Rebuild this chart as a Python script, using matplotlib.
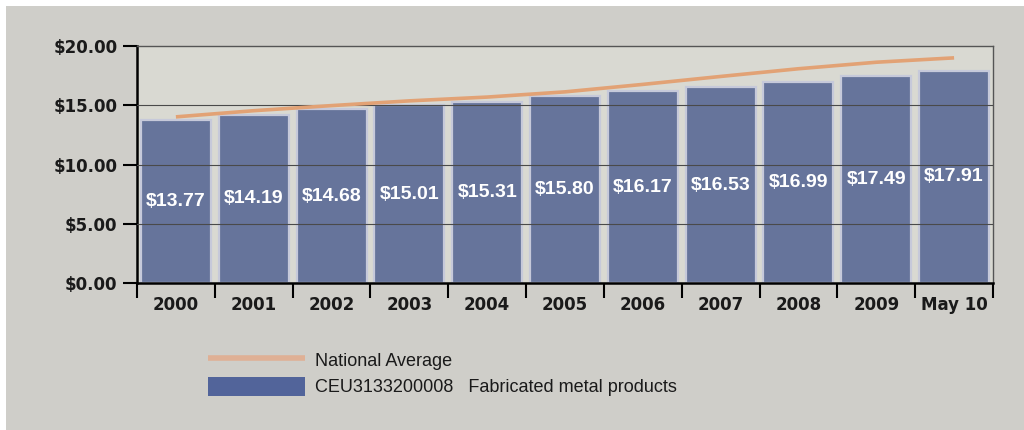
import matplotlib
matplotlib.use("Agg")
import matplotlib.pyplot as plt
from matplotlib.patches import Rectangle
from matplotlib.lines import Line2D

# Average hourly earnings, production workers
categories = ["2000", "2001", "2002", "2003", "2004", "2005",
              "2006", "2007", "2008", "2009", "May 10"]
industry_values = [13.77, 14.19, 14.68, 15.01, 15.31, 15.80,
                   16.17, 16.53, 16.99, 17.49, 17.91]
national_average = [14.02, 14.54, 14.97, 15.37, 15.69, 16.13,
                    16.76, 17.43, 18.08, 18.63, 19.00]
y_ticks = [0, 5, 10, 15, 20]
y_tick_labels = ["$0.00", "$5.00", "$10.00", "$15.00", "$20.00"]
line_label = "National Average"
bar_label = "CEU3133200008   Fabricated metal products"

OUTER_BG = "#cfcec9"
PLOT_BG = "#d9d9d2"
BAR_COLOR = "#66749b"
BAR_EDGE = "#c6c9da"
LINE_COLOR = "#e2a275"
LEGEND_LINE = "#dfb095"
LEGEND_BAR = "#52649a"

fig = plt.figure(figsize=(10.24, 4.30), dpi=100, facecolor="white")
fig.patches.append(Rectangle((6 / 1024, 0), 1 - 6 / 1024, 1 - 6 / 430,
                             transform=fig.transFigure, facecolor=OUTER_BG,
                             edgecolor="none", zorder=-10))

ax = fig.add_axes([137 / 1024, 1 - 283 / 430, (993 - 137) / 1024, (283 - 46) / 430])
ax.set_facecolor(PLOT_BG)
ax.set_zorder(1)

x = list(range(len(categories)))
ax.bar(x, industry_values, width=0.9, color=BAR_COLOR, edgecolor=BAR_EDGE,
       linewidth=1.6, zorder=2)

# horizontal grid drawn over the bars
for yv in y_ticks[1:-1]:
    ax.axhline(yv, color="#4a4a4a", linewidth=0.8, zorder=3)

ax.plot(x, national_average, color=LINE_COLOR, linewidth=2.6, zorder=4,
        solid_capstyle="butt")

for xi, v in zip(x, industry_values):
    ax.text(xi, v / 2, f"${v:.2f}", ha="center", va="center", color="white",
            fontsize=14, fontweight="bold", family="Liberation Sans", zorder=5)

ax.set_xlim(-0.5, len(categories) - 0.5)
ax.set_ylim(0, 20)

ax.set_yticks(y_ticks)
ax.set_yticklabels(y_tick_labels)
ax.tick_params(axis="y", direction="out", length=10, width=1.5, color="black",
               pad=4, labelsize=12, labelcolor="#1a1a1a")

# boundary ticks between categories, labels centred in each slot
ax.set_xticks([i - 0.5 for i in range(len(categories) + 1)])
ax.set_xticklabels([])
ax.set_xticks(x, minor=True)
ax.set_xticklabels(categories, minor=True)
ax.tick_params(axis="x", which="major", direction="out", length=11, width=1.5,
               color="black")
ax.tick_params(axis="x", which="minor", length=0, pad=9, labelsize=12,
               labelcolor="#1a1a1a")
for lab in ax.get_yticklabels() + ax.get_xticklabels(minor=True):
    lab.set_fontweight("bold")

ax.spines["left"].set_color("black")
ax.spines["left"].set_linewidth(1.8)
ax.spines["bottom"].set_color("black")
ax.spines["bottom"].set_linewidth(1.8)
ax.spines["top"].set_color("#555555")
ax.spines["top"].set_linewidth(1.0)
ax.spines["right"].set_color("#555555")
ax.spines["right"].set_linewidth(1.0)

# legend drawn in figure pixel coordinates
def fx(px):
    return px / 1024

def fy(py):
    return 1 - py / 430

fig.lines.append(Line2D([fx(208), fx(305)], [fy(358), fy(358)],
                        transform=fig.transFigure, color=LEGEND_LINE,
                        linewidth=4, solid_capstyle="butt"))
fig.patches.append(Rectangle((fx(208), fy(396)), fx(305) - fx(208), fy(377) - fy(396),
                             transform=fig.transFigure, facecolor=LEGEND_BAR,
                             edgecolor="none"))
fig.text(fx(315), fy(361), line_label, ha="left", va="center", fontsize=13,
         family="Liberation Sans", color="#1a1a1a")
fig.text(fx(315), fy(387), bar_label, ha="left", va="center", fontsize=13,
         family="Liberation Sans", color="#1a1a1a")

fig.savefig("out.png", dpi=100, facecolor=fig.get_facecolor())
